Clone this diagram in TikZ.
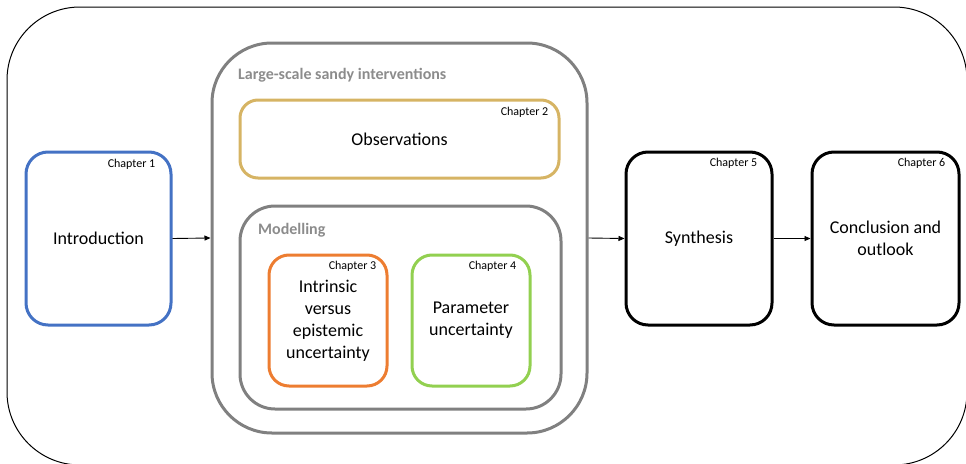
\documentclass[tikz,border=0pt]{standalone}
\usepackage{fontspec}
\setmainfont{Carlito}
\usetikzlibrary{arrows.meta,calc}
\definecolor{cblue}{RGB}{68,114,196}
\definecolor{cgold}{RGB}{214,180,100}
\definecolor{corange}{RGB}{237,125,49}
\definecolor{cgreen}{RGB}{146,208,80}
\definecolor{cgray}{RGB}{128,128,128}
\definecolor{ctext}{RGB}{140,140,140}
\tikzset{
  box/.style={draw, line width=3pt, rounded corners=#1, inner sep=0pt, align=center,
    font=\fontsize{18}{22}\selectfont},
  box/.default=22pt,
  chap/.style={anchor=east, inner sep=0pt, font=\fontsize{12}{14}\selectfont},
  grouplabel/.style={anchor=west, inner sep=0pt, text=ctext, font=\bfseries\fontsize{16}{18}\selectfont},
  conn/.style={draw, line width=0.9pt, -{Triangle[length=6pt,width=5pt]}}
}
\begin{document}
\begin{tikzpicture}[x=1pt,y=-1pt]
\useasboundingbox (0,0) rectangle (966,463);
\node[draw, line width=1pt, rounded corners=73pt, minimum width=960pt, minimum height=458pt, inner sep=0pt] (frame) at (487,236) {};

\node[box, draw=cblue, minimum width=145pt, minimum height=173pt] (intro) at (98.5,238.5) {Introduction};
\node[box=60pt, draw=cgray, minimum width=375pt, minimum height=390pt] (ls) at (399.5,238) {};
\node[box=18pt, draw=cgold, minimum width=319pt, minimum height=78pt] (obs) at (399.5,139) {Observations};
\node[box=35pt, draw=cgray, minimum width=321pt, minimum height=203pt] (mod) at (400.5,307.5) {};
\node[box=20pt, draw=corange, minimum width=118pt, minimum height=131pt] (c3) at (328,320.5) {Intrinsic\\versus\\epistemic\\uncertainty};
\node[box=20pt, draw=cgreen, minimum width=118pt, minimum height=131pt] (c4) at (471,320.5) {Parameter\\uncertainty};
\node[box, draw=black, minimum width=146pt, minimum height=173pt] (syn) at (699,238.5) {Synthesis};
\node[box, draw=black, minimum width=147pt, minimum height=173pt] (conc) at (885.5,238.5) {Conclusion and\\outlook};

\node[grouplabel] (lslabel) at (238,75) {Large-scale sandy interventions};
\node[grouplabel] (modlabel) at (258,230) {Modelling};

\node[chap] (ch1) at ($(intro.north east)+(-17,14)$) {Chapter 1};
\node[chap] (ch2) at ($(obs.north east)+(-12,14)$) {Chapter 2};
\node[chap] (ch3) at ($(c3.north east)+(-12,13)$) {Chapter 3};
\node[chap] (ch4) at ($(c4.north east)+(-15,13)$) {Chapter 4};
\node[chap] (ch5) at ($(syn.north east)+(-16,13)$) {Chapter 5};
\node[chap] (ch6) at ($(conc.north east)+(-15,13)$) {Chapter 6};

\draw[conn] (intro.east) -- (ls.west);
\draw[conn] (ls.east) -- (syn.west);
\draw[conn] (syn.east) -- (conc.west);
\end{tikzpicture}
\end{document}
